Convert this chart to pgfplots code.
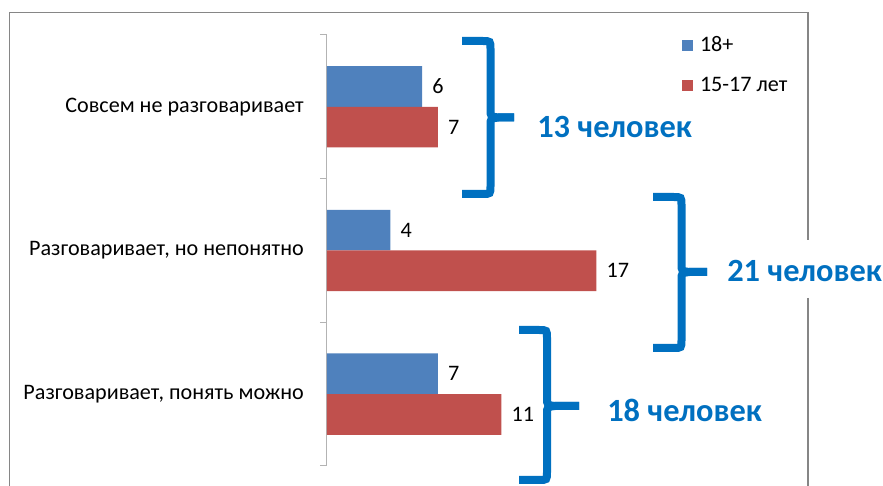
\documentclass[border=0pt]{standalone}
\usepackage{fontspec}
\setmainfont{Carlito}
\usepackage{pgfplots}
\pgfplotsset{compat=1.18}
\definecolor{blueb}{HTML}{4F81BD}
\definecolor{redb}{HTML}{C0504D}
\definecolor{bracec}{HTML}{0070C0}
\definecolor{framec}{HTML}{868686}
\definecolor{axgray}{HTML}{B3B3B3}
\newcommand{\mybrace}[6]{%
 \draw[brc] (#1,#2) -- ({#3-8},#2) .. controls (#3,#2) .. (#3,{#2+8}) -- (#3,{#4-8}) .. controls (#3,{#4-1}) .. ({#3+8},#4) -- (#5,#4);
 \draw[brc] (#1,#6) -- ({#3-8},#6) .. controls (#3,#6) .. (#3,{#6-8}) -- (#3,{#4+8}) .. controls (#3,{#4+1}) .. ({#3+8},#4) -- (#5,#4);
}
\begin{document}
\begin{tikzpicture}
\path[use as bounding box] (0,0) rectangle (662.25pt,364.5pt);
\begin{axis}[
  at={(245.25pt,15pt)}, anchor=south west, scale only axis,
  width=237.75pt, height=323.25pt,
  xbar, xmin=0, xmax=20, ymin=-0.5, ymax=2.5,
  bar width=30.5pt,
  axis lines*=left, hide x axis,
  y axis line style={draw=axgray, line width=0.75pt},
  ytick={0,1,2},
  yticklabels={{Разговаривает, понять можно},{Разговаривает, но непонятно},{Совсем не разговаривает}},
  minor ytick={-0.5,0.5,1.5,2.5},
  tick align=outside, major tick length=0pt, minor tick length=5.25pt,
  y tick style={draw=axgray, line width=0.75pt},
  yticklabel style={anchor=east, inner sep=0pt, xshift=-17.25pt},
  tick label style={font=\fontsize{16.6}{20}\selectfont, text=black},
  /pgf/number format/assume math mode=true,
  nodes near coords,
  nodes near coords style={anchor=west, inner sep=0pt, xshift=7.5pt, font=\fontsize{16.6}{20}\selectfont, text=black},
  clip=false,
  legend image code/.code={\fill[#1] (0pt,-4.125pt) rectangle (8.25pt,4.125pt);},
  legend style={at={(1.1199,1.0232)}, anchor=north west, draw=none, fill=none, inner sep=0pt, outer sep=0pt,
    font=\fontsize{16.6}{20}\selectfont, nodes={inner sep=0pt, minimum height=30pt}, column sep=5.25pt},
  legend cell align=left,
]
\addplot[fill=blueb, draw=none, bar shift=15.25pt] coordinates {(6,2) (4,1) (7,0)};
\addplot[fill=redb, draw=none, bar shift=-15.25pt] coordinates {(7,2) (17,1) (11,0)};
\legend{18+, 15-17 лет}
\end{axis}
\begin{scope}[x=0.75pt, y=-0.75pt, yshift=364.5pt]
 \draw[framec, line width=1.2pt] (9.5,486) -- (9.5,12.5) -- (808,12.5) -- (808,240);
 \draw[framec, line width=1.2pt] (808,298) -- (808,486);
 \tikzset{brc/.style={draw=bracec, line width=6pt}}
 \mybrace{462}{41}{490.5}{117.5}{514}{194}
 \mybrace{653}{197}{681.5}{272}{707}{348}
 \mybrace{519}{330}{547}{406}{579}{480}
 \node[anchor=base west, inner sep=0pt, text=bracec, font=\fontsize{24.3}{28}\selectfont\bfseries] at (537,138) {13 человек};
 \node[anchor=base west, inner sep=0pt, text=bracec, font=\fontsize{24.3}{28}\selectfont\bfseries] at (727,282) {21 человек};
 \node[anchor=base west, inner sep=0pt, text=bracec, font=\fontsize{24.3}{28}\selectfont\bfseries] at (607,422) {18 человек};
\end{scope}
\end{tikzpicture}
\end{document}
